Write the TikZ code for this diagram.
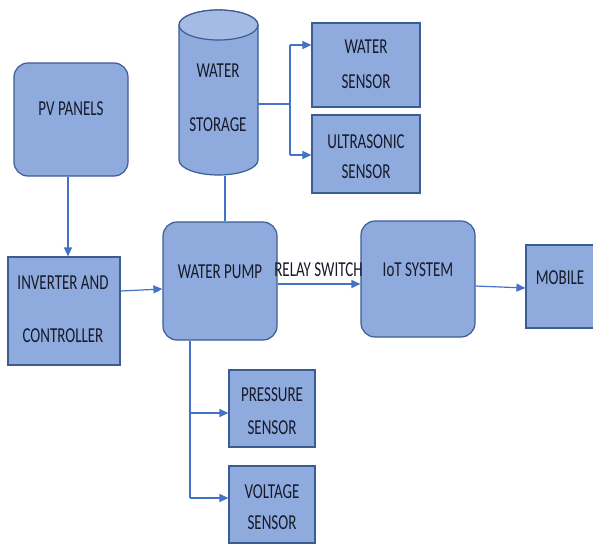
\documentclass[tikz,border=0pt]{standalone}
\usepackage{fontspec}
\setmainfont{Carlito}
\usetikzlibrary{arrows.meta}
\definecolor{boxfill}{HTML}{8FAADC}
\definecolor{boxline}{HTML}{3B5C94}
\definecolor{conn}{HTML}{4472C4}
\definecolor{txt}{HTML}{161A2A}
\begin{document}
\begin{tikzpicture}[x=1pt,y=-1pt,
  box/.style={draw=boxline,fill=boxfill,line width=1.2pt,inner sep=0pt},
  rbox/.style={box,rounded corners=14pt},
  lbl/.style={text=txt,font=\fontsize{15}{15}\selectfont,yscale=1.42,transform shape,inner sep=0pt},
  conn/.style={draw=conn,line width=1.2pt},
  arr/.style={conn,-{Triangle[length=9pt,width=8pt]}}]
\useasboundingbox (0,0) rectangle (593,546);
\fill[white] (0,0) rectangle (593,546);
% boxes
\node[rbox,minimum width=114pt,minimum height=113pt] (pv) at (71,119.5) {};
\node[box,minimum width=112pt,minimum height=108pt] (inv) at (64,311) {};
\node[rbox,minimum width=114pt,minimum height=118pt] (pump) at (220,281) {};
\node[rbox,minimum width=114pt,minimum height=116pt] (iot) at (418,279) {};
\node[box,minimum width=70pt,minimum height=83pt] (mob) at (561,286.5) {};
\node[box,minimum width=108pt,minimum height=84pt] (wsen) at (366,65) {};
\node[box,minimum width=108pt,minimum height=78pt] (usen) at (366,154) {};
\node[box,minimum width=86pt,minimum height=77pt] (psen) at (272,408.5) {};
\node[box,minimum width=86pt,minimum height=77pt] (vsen) at (272,504.5) {};
% cylinder
\filldraw[draw=boxline,fill=boxfill,line width=1.2pt]
  (179,25) -- (179,160) arc[start angle=180,end angle=0,x radius=39.5,y radius=15] -- (258,25)
  arc[start angle=0,end angle=-180,x radius=39.5,y radius=15];
\draw[draw=boxline,line width=1.2pt,fill=boxfill!80!white] (218.5,25) ellipse[x radius=39.5,y radius=15];
\node[minimum width=79pt,minimum height=165pt,inner sep=0pt] (stor) at (218.5,92.5) {};
% labels
\node[lbl] (tpv) at (71,109) {PV PANELS};
\node[lbl] (tinv1) at (63,283) {INVERTER AND};
\node[lbl] (tinv2) at (63,336) {CONTROLLER};
\node[lbl] (tpump) at (220,272) {WATER PUMP};
\node[lbl] (tiot) at (418,270) {IoT SYSTEM};
\node[lbl] (tmob) at (560,278) {MOBILE};
\node[lbl] (tst1) at (218,71) {WATER};
\node[lbl] (tst2) at (218,125) {STORAGE};
\node[lbl] (tws1) at (366,47) {WATER};
\node[lbl] (tws2) at (366,82) {SENSOR};
\node[lbl] (tus1) at (366,142) {ULTRASONIC};
\node[lbl] (tus2) at (366,172) {SENSOR};
\node[lbl] (tps1) at (272,395) {PRESSURE};
\node[lbl] (tps2) at (272,428) {SENSOR};
\node[lbl] (tvs1) at (272,492) {VOLTAGE};
\node[lbl] (tvs2) at (272,523) {SENSOR};
\node[lbl] (trelay) at (318.5,270) {RELAY SWITCH};
% connectors
\draw[arr] (pv.south -| 68,0) -- (inv.north -| 68,0);
\draw[arr] (inv.east |- 0,291) -- (pump.west |- 0,289);
\draw[arr] (pump.east |- 0,284) -- (iot.west |- 0,284);
\draw[arr] (iot.east |- 0,286) -- (mob.west |- 0,288);
\draw[conn] (225,176) -- (pump.north -| 225,0);
\coordinate (sb) at (290,104);
\draw[conn] (stor.east |- sb) -- (sb);
\draw[conn] (290,45) -- (290,155);
\draw[arr] (290,45) -- (wsen.west |- 0,45);
\draw[arr] (290,155) -- (usen.west |- 0,155);
\coordinate (pb) at (190,498);
\draw[conn] (pump.south -| pb) -- (pb);
\draw[arr] (190,413) -- (psen.west |- 0,413);
\draw[arr] (pb) -- (vsen.west |- pb);
\end{tikzpicture}
\end{document}
